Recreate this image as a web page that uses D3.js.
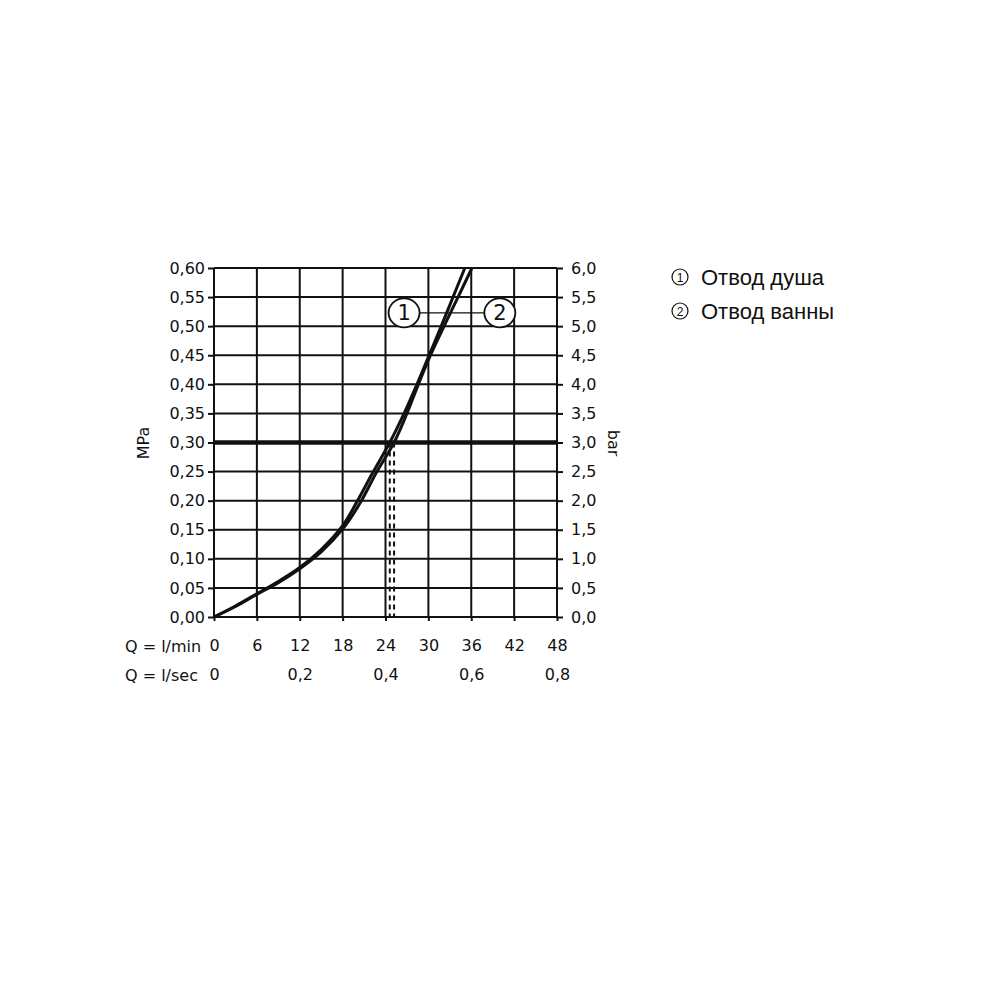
<!DOCTYPE html>
<html><head><meta charset="utf-8">
<script src="https://cdn.jsdelivr.net/npm/d3@7"></script>
<style>body{margin:0;background:#fff}</style>
</head><body>
<svg id="c" width="1000" height="1000"></svg>
<script>
// ---- data ----
const mpaTicks = [0,0.05,0.10,0.15,0.20,0.25,0.30,0.35,0.40,0.45,0.50,0.55,0.60];
const barTicks = [0,0.5,1,1.5,2,2.5,3,3.5,4,4.5,5,5.5,6];
const lminTicks = [0,6,12,18,24,30,36,42,48];
const lsecTicks = [0,0.2,0.4,0.6,0.8];
const curve1Flow = [0,3,6,9,12,15,18,20,22.3,24.6,26.6,28.4,30.1,31.8,33.45,35.1];
const curve1Pressure = [0,0.019,0.040,0.061,0.085,0.116,0.157,0.198,0.25,0.30,0.35,0.40,0.45,0.50,0.55,0.60];
const curve2Flow = [0,3,6,9,12,15,18,20.4,22.8,25.2,27.0,28.6,30.3,32.2,34.15,36.1];
const curve2Pressure = [0,0.018,0.039,0.059,0.083,0.112,0.151,0.195,0.25,0.30,0.35,0.40,0.45,0.50,0.55,0.60];
const refPressure = 0.30;
const legendItems = ["Отвод душа","Отвод ванны"];
const curveLabels = ["1","2"];

// ---- layout ----
const svg = d3.select("#c");
const L=214,R=557,T=268,B=617;
const font = "DejaVu Sans, sans-serif";
const fs = "16px";
const x = d3.scaleLinear().domain([0,48]).range([L,R]);
const xs = d3.scaleLinear().domain([0,0.8]).range([L,R]);
const y = d3.scaleLinear().domain([0,0.6]).range([B,T]);
const yb = d3.scaleLinear().domain([0,6]).range([B,T]);
const comma = d => d.toString().replace(".",",");
const fmt2 = d => d3.format(".2f")(d).replace(".",",");
const fmt1 = d => d3.format(".1f")(d).replace(".",",");

// grid
const g = svg.append("g").attr("stroke","#111").attr("stroke-width",2);
g.selectAll(".v").data(lminTicks).join("line")
  .attr("x1",d=>x(d)).attr("x2",d=>x(d)).attr("y1",T).attr("y2",B);
g.selectAll(".h").data(mpaTicks).join("line")
  .attr("x1",L).attr("x2",R).attr("y1",d=>y(d)).attr("y2",d=>y(d));

// axes
function style(sel){
  sel.select(".domain").remove();
  sel.selectAll(".tick line").attr("stroke","#111").attr("stroke-width",2);
  sel.selectAll(".tick text").attr("fill","#111").style("font-family",font).style("font-size",fs);
}
svg.append("g").attr("transform",`translate(${L},0)`)
  .call(d3.axisLeft(y).tickValues(mpaTicks).tickFormat(fmt2).tickSize(6).tickPadding(3)).call(style);
svg.append("g").attr("transform",`translate(${R},0)`)
  .call(d3.axisRight(yb).tickValues(barTicks).tickFormat(fmt1).tickSize(6).tickPadding(8)).call(style);
svg.append("g").attr("transform",`translate(0,${B})`)
  .call(d3.axisBottom(x).tickValues(lminTicks).tickFormat(comma).tickSize(4).tickPadding(19)).call(style);
svg.append("g").attr("transform",`translate(0,${B+29})`)
  .call(d3.axisBottom(xs).tickValues(lsecTicks).tickFormat(comma).tickSize(0).tickPadding(23)).call(style);

// axis titles
svg.append("text").attr("x",125).attr("y",652).text("Q = l/min")
  .style("font-family",font).style("font-size",fs).attr("fill","#111");
svg.append("text").attr("x",125).attr("y",681).text("Q = l/sec")
  .style("font-family",font).style("font-size",fs).attr("fill","#111");
svg.append("text").attr("transform","translate(149,443) rotate(-90)").attr("text-anchor","middle").text("MPa")
  .style("font-family",font).style("font-size",fs).attr("fill","#111");
svg.append("text").attr("transform","translate(608,443) rotate(90)").attr("text-anchor","middle").text("bar")
  .style("font-family",font).style("font-size",fs).attr("fill","#111");

// reference line 0.30
svg.append("line").attr("x1",L).attr("x2",R).attr("y1",y(refPressure)).attr("y2",y(refPressure))
  .attr("stroke","#111").attr("stroke-width",4.5);

// dashed verticals at intersection
const cross1 = curve1Flow[curve1Pressure.indexOf(refPressure)];
const cross2 = curve2Flow[curve2Pressure.indexOf(refPressure)];
svg.selectAll(".dash").data([cross1,cross2]).join("line")
  .attr("x1",d=>x(d)).attr("x2",d=>x(d)).attr("y1",y(refPressure)).attr("y2",B)
  .attr("stroke","#111").attr("stroke-width",2).attr("stroke-dasharray","5,4");

// curves
const line = d3.line().x(d=>x(d[0])).y(d=>y(d[1])).curve(d3.curveCatmullRom.alpha(0.5));
[[curve1Flow,curve1Pressure],[curve2Flow,curve2Pressure]].forEach(([f,p])=>{
  svg.append("path").attr("d",line(f.map((v,i)=>[v,p[i]])))
    .attr("fill","none").attr("stroke","#111").attr("stroke-width",3);
});

// curve labels
const lblY = y(0.523);
const c1 = 26.6, c2 = 40.0;
svg.append("line").attr("x1",x(c1)).attr("x2",x(c2)).attr("y1",lblY).attr("y2",lblY).attr("stroke","#111").attr("stroke-width",1.3);
[[c1,curveLabels[0]],[c2,curveLabels[1]]].forEach(([fx,t])=>{
  svg.append("ellipse").attr("cx",x(fx)).attr("cy",lblY).attr("rx",15.5).attr("ry",14.5)
    .attr("fill","#fff").attr("stroke","#111").attr("stroke-width",1.8);
  svg.append("text").attr("x",x(fx)).attr("y",lblY+7.5).attr("text-anchor","middle").text(t)
    .style("font-family",font).style("font-size","21px").attr("fill","#111");
});

// legend
legendItems.forEach((t,i)=>{
  const ly = 277 + i*34;
  svg.append("circle").attr("cx",680).attr("cy",ly).attr("r",8).attr("fill","none").attr("stroke","#111").attr("stroke-width",1.2);
  svg.append("text").attr("x",680).attr("y",ly+4.5).attr("text-anchor","middle").text(curveLabels[i])
    .style("font-family","Liberation Sans, Arial, sans-serif").style("font-size","12px").attr("fill","#111");
  svg.append("text").attr("x",701).attr("y",ly+7.5).text(t)
    .style("font-family","Liberation Sans, Arial, sans-serif").style("font-size","22px").attr("fill","#111");
});
</script>
</body></html>
